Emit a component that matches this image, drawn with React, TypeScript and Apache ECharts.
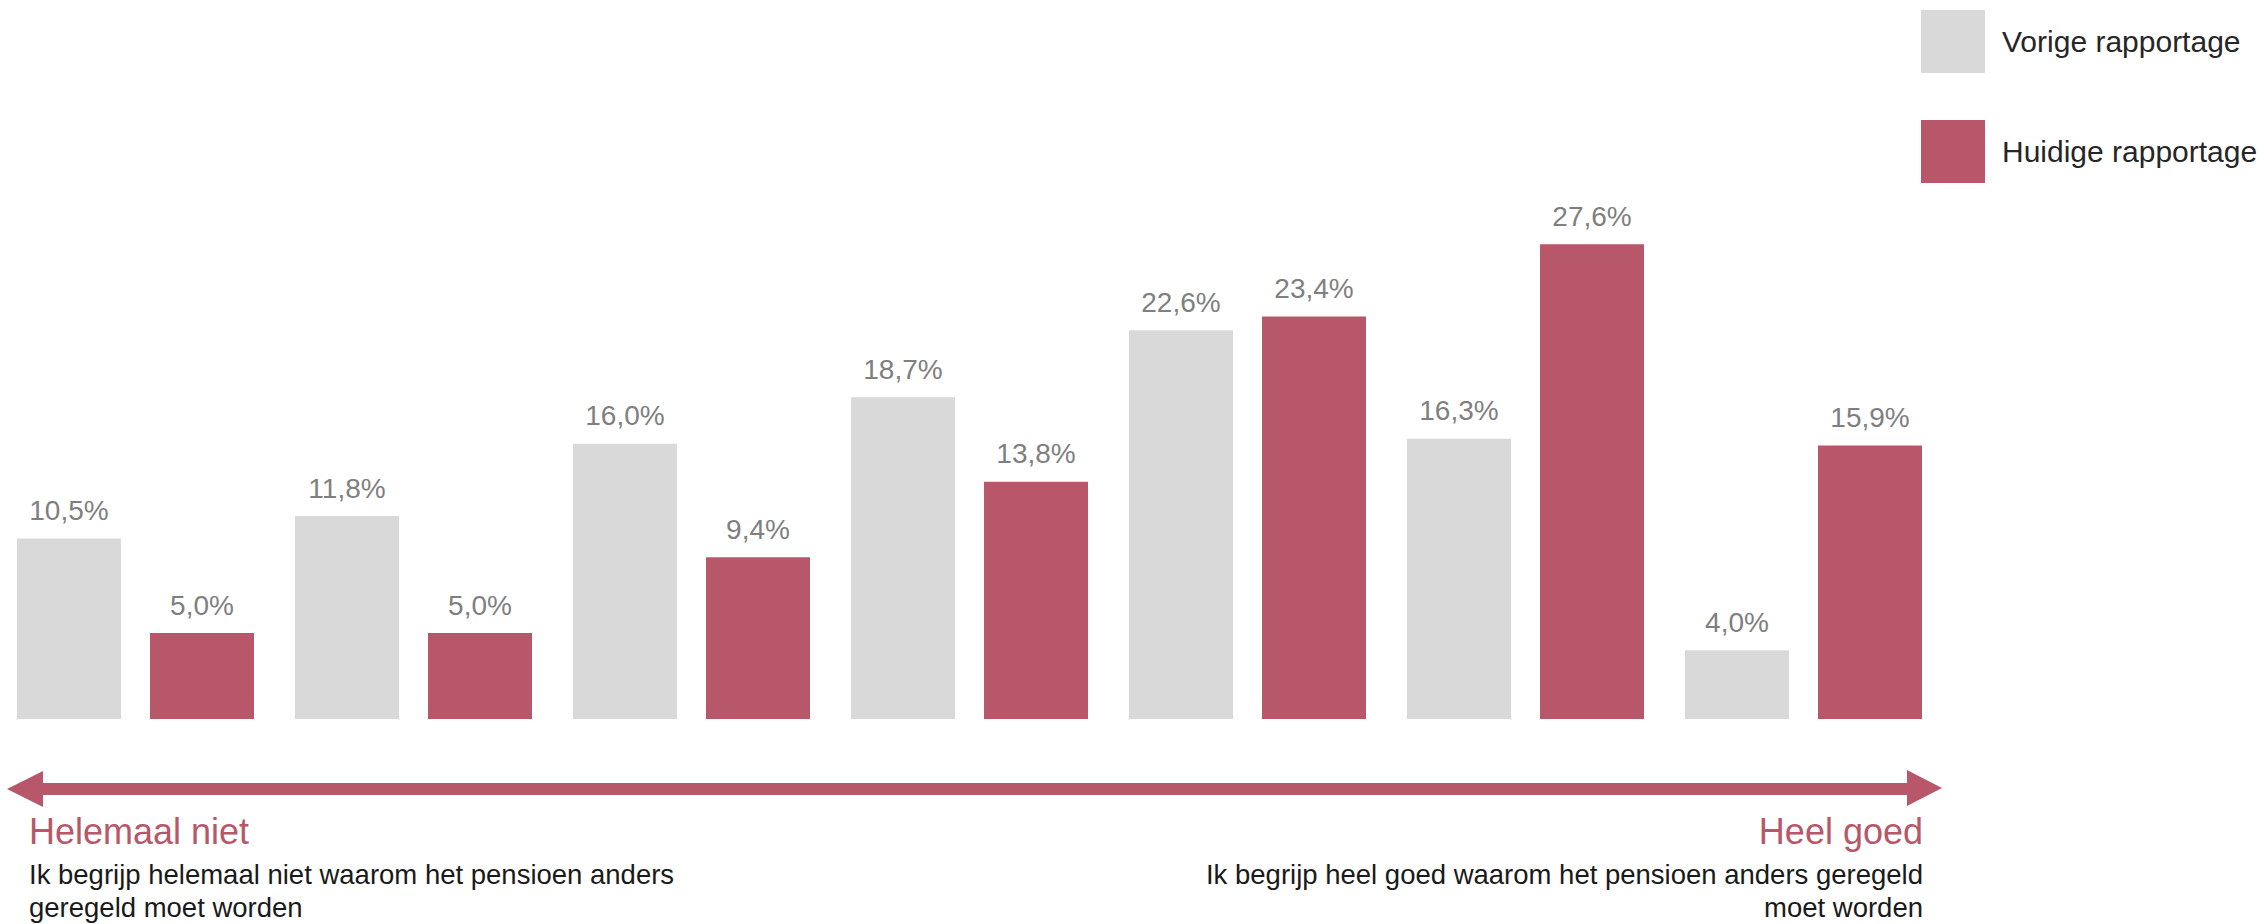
import React, { useEffect, useRef } from "react";
import * as echarts from "echarts";

const categories = ["1", "2", "3", "4", "5", "6", "7"];
const vorige = [10.5, 11.8, 16.0, 18.7, 22.6, 16.3, 4.0];
const huidige = [5.0, 5.0, 9.4, 13.8, 23.4, 27.6, 15.9];
const seriesNames = ["Vorige rapportage", "Huidige rapportage"];
const leftTitle = "Helemaal niet";
const leftDesc = "Ik begrijp helemaal niet waarom het pensioen anders\ngeregeld moet worden";
const rightTitle = "Heel goed";
const rightDesc = "Ik begrijp heel goed waarom het pensioen anders geregeld\nmoet worden";

const GRAY = "#D9D9D9";
const RED = "#B85769";
const FONT = "'Liberation Sans', Arial, sans-serif";
const SHIFT = 4; // div is placed 4px left of the page edge

const fmt = (p: any) => p.value.toFixed(1).replace(".", ",") + "%";

export default function App() {
  const ref = useRef<HTMLDivElement>(null);
  useEffect(() => {
    if (!ref.current) return;
    const chart = echarts.init(ref.current, undefined, { renderer: "svg" });
    const label = {
      show: true,
      position: "top",
      distance: 14,
      formatter: fmt,
      color: "#7F7F7F",
      fontSize: 28,
      fontFamily: FONT,
    };
    const X = (v: number) => v + SHIFT;
    chart.setOption({
      animation: false,
      backgroundColor: "#FFFFFF",
      grid: { left: 0.5, top: 203, width: 1946, height: 516, containLabel: false },
      xAxis: {
        type: "category",
        data: categories,
        axisLine: { show: false },
        axisTick: { show: false },
        axisLabel: { show: false },
        splitLine: { show: false },
      },
      yAxis: {
        type: "value",
        min: 0,
        max: 30,
        show: false,
        splitLine: { show: false },
      },
      legend: {
        orient: "vertical",
        left: X(1921),
        top: 10,
        padding: 0,
        itemWidth: 64,
        itemHeight: 63,
        itemGap: 47,
        icon: "rect",
        data: seriesNames,
        textStyle: {
          fontSize: 30,
          color: "#262626",
          fontFamily: FONT,
          padding: [0, 0, 0, 12],
        },
      },
      series: [
        {
          name: seriesNames[0],
          type: "bar",
          data: vorige,
          barWidth: 104,
          barGap: "27.9%",
          itemStyle: { color: GRAY },
          label,
        },
        {
          name: seriesNames[1],
          type: "bar",
          data: huidige,
          barWidth: 104,
          itemStyle: { color: RED },
          label,
        },
      ],
      graphic: [
        {
          type: "polygon",
          shape: {
            points: [
              [X(7), 789], [X(43), 771], [X(43), 783], [X(1907), 783], [X(1907), 770],
              [X(1942), 788], [X(1907), 806], [X(1907), 795], [X(43), 795], [X(43), 807],
            ],
          },
          style: { fill: RED },
        },
        {
          type: "text",
          x: X(29),
          y: 831,
          style: {
            text: leftTitle,
            fill: RED,
            fontSize: 36,
            fontFamily: FONT,
            align: "left",
            verticalAlign: "middle",
          },
        },
        {
          type: "text",
          x: X(1923),
          y: 831,
          style: {
            text: rightTitle,
            fill: RED,
            fontSize: 36,
            fontFamily: FONT,
            align: "right",
            verticalAlign: "middle",
          },
        },
        {
          type: "text",
          x: X(29),
          y: 858,
          style: {
            text: leftDesc,
            fill: "#1A1A1A",
            fontSize: 27.5,
            lineHeight: 33,
            fontFamily: FONT,
            align: "left",
            verticalAlign: "top",
          },
        },
        {
          type: "text",
          x: X(1923),
          y: 858,
          style: {
            text: rightDesc,
            fill: "#1A1A1A",
            fontSize: 27.5,
            lineHeight: 33,
            fontFamily: FONT,
            align: "right",
            verticalAlign: "top",
          },
        },
      ],
    });
    return () => chart.dispose();
  }, []);
  return (
    <div
      ref={ref}
      style={{ position: "absolute", left: -SHIFT, top: 0, width: 2264 + SHIFT, height: 924 }}
    />
  );
}
